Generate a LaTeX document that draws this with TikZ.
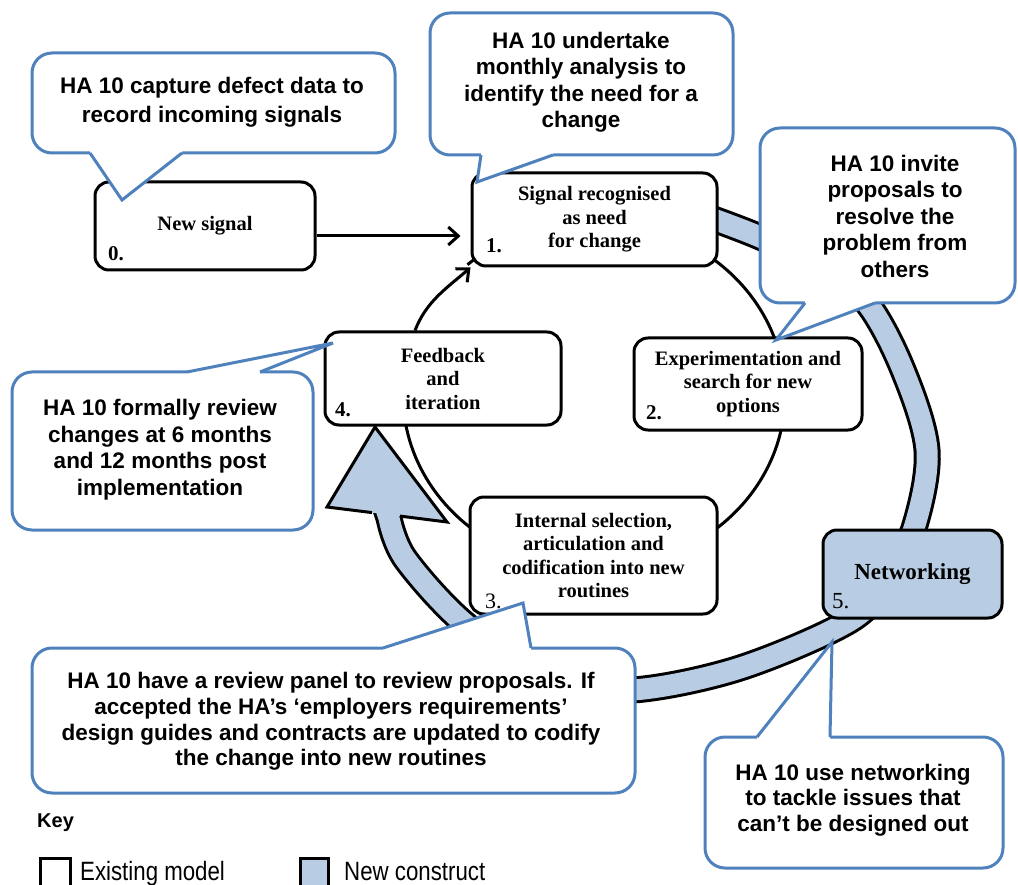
\documentclass[tikz,border=0pt]{standalone}
\usepackage{fontspec}
\setmainfont{Liberation Serif}
\newfontfamily\callfont{Liberation Sans}
\newfontfamily\narrowfont[FakeStretch=0.84]{Liberation Sans}
\usetikzlibrary{arrows.meta}

\definecolor{callblue}{RGB}{79,129,189}
\definecolor{newfill}{RGB}{184,204,228}

\tikzset{
  stage/.style={draw=black, line width=3pt, rounded corners=14pt, fill=white,
    inner sep=0pt, align=center, font=\fontsize{20.5}{23.5}\selectfont\bfseries},
  newstage/.style={stage, fill=newfill},
  stagenum/.style={anchor=base west, inner sep=0pt, font=\fontsize{21}{21}\selectfont\bfseries},
  stagenumlight/.style={anchor=base west, inner sep=0pt, font=\fontsize{22}{22}\selectfont},
  calltext/.style={align=center, inner sep=0pt,
    font=\fontsize{22.5}{26.5}\selectfont\callfont\bfseries},
  callbody/.style={draw=callblue, line width=3pt, fill=white, rounded corners=20pt},
  callline/.style={draw=callblue, line width=3pt, line join=miter},
  loopline/.style={line width=3pt},
  barb/.style={-{Straight Barb[length=10pt,width=18pt]}},
  band/.style={line width=3pt, double=newfill, double distance=21pt},
  keysq/.style={draw=black, line width=3pt, inner sep=0pt, minimum width=30pt, minimum height=48pt},
  keytext/.style={anchor=base west, inner sep=0pt, font=\fontsize{26.5}{27}\selectfont\narrowfont},
}

% speech bubble: corner, opposite corner, pointer base a, pointer tip, pointer base b, inward shift
\newcommand{\speechbubble}[6]{%
  \path[callbody] (#1) rectangle (#2);
  \fill[white] (#3) -- (#4) -- (#5) -- ([yshift=#6]#5) -- ([yshift=#6]#3) -- cycle;
  \draw[callline] (#3) -- (#4) -- (#5);
}

\begin{document}
\begin{tikzpicture}[x=1pt, y=-1pt]
\useasboundingbox (0,0) rectangle (1018,885);

% the cycle of the existing model (the stretch from stage 4 to stage 1 is the arrow below)
\draw[loopline] plot[smooth, domain=-131.5:201, samples=140, variable=\t]
  ({594+191*cos(\t)}, {395+174*sin(\t)});

% the new construct: broad band round the cycle
\draw[band] plot[smooth, tension=0.55] coordinates {
  (705,216) (760,237) (820,266) (867,303) (903,370) (927,450) (915,525)
  (890,575) (851,620) (740,668) (633,690) (560,680) (470,628) (406,560) (389,518)}
  -- (384,503);
\fill[newfill] (327,507) -- (375,427) -- (447,522) -- cycle;
\draw[line width=3pt, line join=miter] (372,512.6) -- (327,507) -- (375,427) -- (447,522) -- (400,516.1);

% stages
\node[stage, minimum width=220pt, minimum height=88pt] (s0) at (205,226) {New signal};
\node[stage, minimum width=245pt, minimum height=93pt] (s1) at (594.5,219.5) {Signal recognised\\as need\\for change};
\node[stage, minimum width=228pt, minimum height=92pt] (s2) at (748,384) {Experimentation and\\search for new\\options};
\node[stage, minimum width=247pt, minimum height=117pt] (s3) at (593.5,555.5) {Internal selection,\\articulation and\\codification into new\\routines};
\node[stage, minimum width=236pt, minimum height=93pt] (s4) at (443,378.5) {Feedback\\and\\iteration};
\node[newstage, minimum width=179pt, minimum height=88pt, font=\fontsize{23}{26}\selectfont\bfseries] (s5) at (912.5,574) {Networking};

\node[stagenum] (n0) at (108,261) {0.};
\node[stagenum] (n1) at (486,253) {1.};
\node[stagenum] (n2) at (646,420) {2.};
\node[stagenumlight] (n3) at (485,608) {3.};
\node[stagenum] (n4) at (335,417) {4.};
\node[stagenumlight, font=\fontsize{23}{23}\selectfont] (n5) at (832,608) {5.};

% connectors
\draw[loopline, barb, shorten >=10pt] ([yshift=-10pt]s0.east) -- ([yshift=-16.5pt]s1.west);
\draw[loopline, barb] ([xshift=-28pt]s4.north) to[out=69, in=221, looseness=0.95] (s1.south west);

% speech bubbles
\speechbubble{32,53}{395,153}{90,153}{122,200}{182,153}{4pt}
\node[calltext, font=\fontsize{22.5}{29}\selectfont\callfont\bfseries] (c0) at (212,102.5)
  {HA 10 capture defect data to\\record incoming signals};

\speechbubble{430,13}{733,155}{481,155}{477,182}{553,155}{4pt}
\node[calltext] (c1) at (581,82) {HA 10 undertake\\monthly analysis to\\identify the need for a\\change};

\speechbubble{760,128}{1015,303}{805,303}{776,340}{875,303}{4pt}
\node[calltext] (c2) at (895,216) {HA 10 invite\\proposals to\\resolve the\\problem from\\others};

\speechbubble{12,372}{313,530}{187,372}{333,343}{260,372}{-4pt}
\node[calltext] (c4) at (160,449.5) {HA 10 formally review\\changes at 6 months\\and 12 months post\\implementation};

\speechbubble{32,648}{635,793}{383,648}{523,603}{531,648}{-4pt}
\node[calltext, font=\fontsize{22.5}{25.8}\selectfont\callfont\bfseries] (c3) at (331,721.5)
  {HA 10 have a review panel to review proposals. If\\accepted the HA’s ‘employers requirements’\\design guides and contracts are updated to codify\\the change into new routines};

\speechbubble{705,737}{1003,868}{757,737}{832,642}{830,737}{-4pt}
\node[calltext, font=\fontsize{22.5}{25.5}\selectfont\callfont\bfseries] (c5) at (853,800)
  {HA 10 use networking\\to tackle issues that\\can’t be designed out};

% key
\node[anchor=base west, inner sep=0pt, font=\fontsize{20}{20}\selectfont\callfont\bfseries] (keytitle) at (37,827) {Key};
\node[keysq, anchor=north west] (keyold) at (38.5,856.5) {};
\node[keytext] (keyoldtext) at (80,880) {Existing model};
\node[keysq, anchor=north west, fill=newfill, minimum width=28pt] (keynew) at (298.5,856.5) {};
\node[keytext] (keynewtext) at (344,880) {New construct};
\end{tikzpicture}
\end{document}
